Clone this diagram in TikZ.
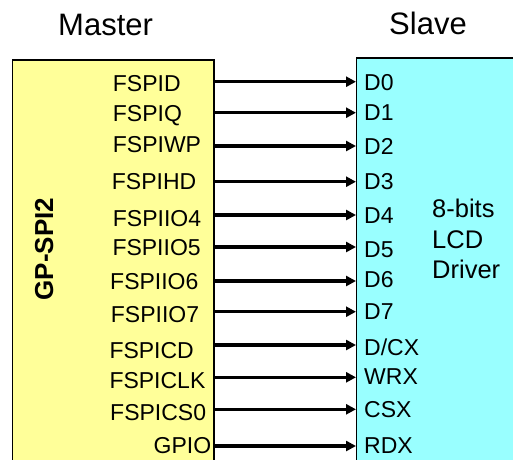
\documentclass[tikz,border=0pt]{standalone}
\usepackage{fontspec}
\setmainfont{Liberation Sans}
\usetikzlibrary{arrows.meta}
\definecolor{mfill}{RGB}{255,255,153}
\definecolor{sfill}{RGB}{153,255,255}
\tikzset{
  box/.style={draw=black, line width=1.6pt},
  pinlbl/.style={inner sep=0pt, anchor=base west, font=\fontsize{23}{27}\selectfont},
  titlelbl/.style={inner sep=0pt, anchor=base west, font=\fontsize{31}{36}\selectfont},
  drvlbl/.style={inner sep=0pt, anchor=base west, font=\fontsize{25.5}{29}\selectfont},
  sig/.style={line width=3.5pt, -{Triangle[length=10pt,width=10pt]}},
}
\begin{document}
\begin{tikzpicture}[x=1pt,y=-1pt]
\useasboundingbox (0,0) rectangle (513,459);
\clip (0,0) rectangle (513,459);
% boxes
\path[box, fill=mfill] (12.5,60) rectangle (214,480);
\path[box, fill=sfill] (356.5,58) rectangle (540,480);
% titles
\node[titlelbl] (mtitle) at (58,35) {Master};
\node[titlelbl] (stitle) at (389,34) {Slave};
% block name
\node[inner sep=0pt, anchor=base, rotate=90, font=\fontsize{26}{30}\selectfont\bfseries] (gpspi) at (53,249) {GP-SPI2};
% driver text
\node[drvlbl] (drv1) at (432,217) {8-bits};
\node[drvlbl] (drv2) at (432,248) {LCD};
\node[drvlbl] (drv3) at (432,278) {Driver};
% master pins
\node[pinlbl] (m1) at (112.7,91.7) {FSPID};
\node[pinlbl] (m2) at (112.7,121) {FSPIQ};
\node[pinlbl] (m3) at (112.7,152) {FSPIWP};
\node[pinlbl] (m4) at (111.7,189) {FSPIHD};
\node[pinlbl] (m5) at (112.7,226.5) {FSPIIO4};
\node[pinlbl] (m6) at (112.3,255.5) {FSPIIO5};
\node[pinlbl] (m7) at (110,289) {FSPIIO6};
\node[pinlbl] (m8) at (110.7,322) {FSPIIO7};
\node[pinlbl] (m9) at (109.3,358) {FSPICD};
\node[pinlbl] (m10) at (109.3,388) {FSPICLK};
\node[pinlbl] (m11) at (110,420) {FSPICS0};
\node[pinlbl] (m12) at (153.5,453) {GPIO};
% slave pins
\node[pinlbl] (s1) at (364,90) {D0};
\node[pinlbl] (s2) at (364,120) {D1};
\node[pinlbl] (s3) at (364,154) {D2};
\node[pinlbl] (s4) at (364,189) {D3};
\node[pinlbl] (s5) at (364,223) {D4};
\node[pinlbl] (s6) at (364,257) {D5};
\node[pinlbl] (s7) at (364,287) {D6};
\node[pinlbl] (s8) at (364,319) {D7};
\node[pinlbl] (s9) at (364,355) {D/CX};
\node[pinlbl] (s10) at (364,384) {WRX};
\node[pinlbl] (s11) at (364,417) {CSX};
\node[pinlbl] (s12) at (364,453) {RDX};
% connector rows
\foreach \i/\y in {1/81.7,2/112.7,3/146,4/181.7,5/215,6/247,7/281,8/311.7,9/345,10/377.3,11/409.3,12/446}{
  \coordinate (a\i) at (214,\y);
  \coordinate (b\i) at (356,\y);
  \draw[sig] (a\i) -- (b\i);
}
\end{tikzpicture}
\end{document}
